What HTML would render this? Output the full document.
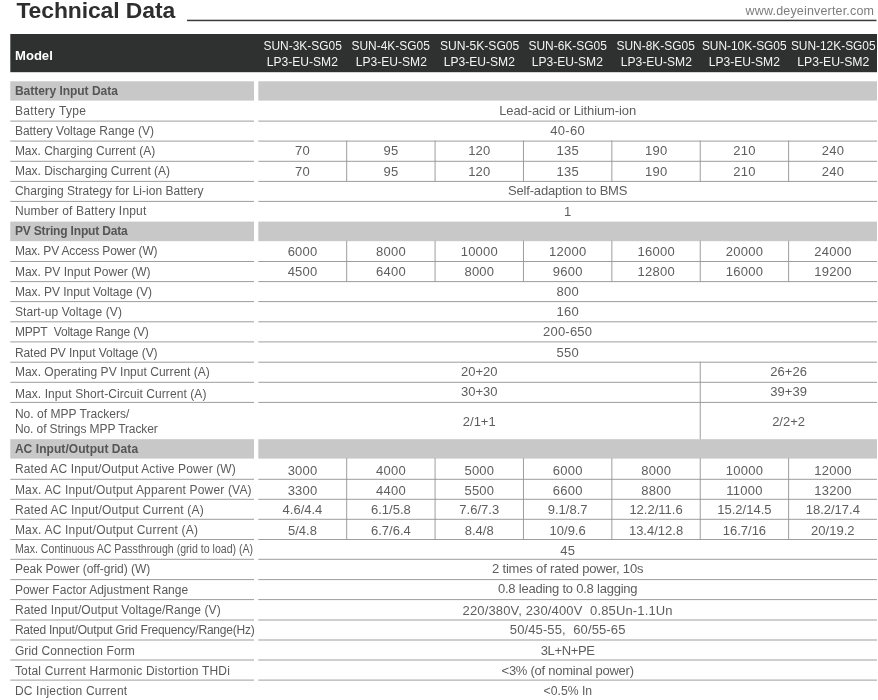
<!DOCTYPE html><html><head><meta charset="utf-8"><title>Technical Data</title><style>
html,body{margin:0;padding:0;background:#fff;}
body{width:878px;height:700px;position:relative;overflow:hidden;font-family:"Liberation Sans",sans-serif;will-change:transform;}
div{position:absolute;white-space:nowrap;line-height:16px;}
svg{position:absolute;left:0;top:0;}
.l{left:14.9px;font-size:12px;color:#5a5a5a;}
.s{left:14.9px;font-size:12px;color:#555555;font-weight:bold;}
.v{font-size:13px;color:#5e5e5e;text-align:center;}
.v span,.h span{display:inline-block;}
.h{font-size:13px;color:#f4f4f4;text-align:center;}
</style></head><body>
<svg id="shapes" width="878" height="700" viewBox="0 0 878 700">
<rect x="187.00" y="19.70" width="689.50" height="1.50" fill="#3a3a3a"/>
<rect x="10.30" y="34.00" width="866.70" height="38.20" fill="#2f3131"/>
<rect x="10.30" y="81.30" width="243.70" height="19.30" fill="#c8c8c8"/>
<rect x="258.30" y="81.30" width="618.70" height="19.30" fill="#c8c8c8"/>
<rect x="10.30" y="120.60" width="243.70" height="1.00" fill="#9d9d9d"/>
<rect x="258.30" y="120.60" width="618.70" height="1.00" fill="#9d9d9d"/>
<rect x="10.30" y="140.60" width="243.70" height="1.00" fill="#9d9d9d"/>
<rect x="258.30" y="140.60" width="618.70" height="1.00" fill="#9d9d9d"/>
<rect x="10.30" y="160.80" width="243.70" height="1.00" fill="#9d9d9d"/>
<rect x="258.30" y="160.80" width="618.70" height="1.00" fill="#9d9d9d"/>
<rect x="346.19" y="140.60" width="1.00" height="21.20" fill="#9d9d9d"/>
<rect x="434.57" y="140.60" width="1.00" height="21.20" fill="#9d9d9d"/>
<rect x="522.96" y="140.60" width="1.00" height="21.20" fill="#9d9d9d"/>
<rect x="611.34" y="140.60" width="1.00" height="21.20" fill="#9d9d9d"/>
<rect x="699.73" y="140.60" width="1.00" height="21.20" fill="#9d9d9d"/>
<rect x="788.11" y="140.60" width="1.00" height="21.20" fill="#9d9d9d"/>
<rect x="10.30" y="180.90" width="243.70" height="1.00" fill="#9d9d9d"/>
<rect x="258.30" y="180.90" width="618.70" height="1.00" fill="#9d9d9d"/>
<rect x="346.19" y="160.80" width="1.00" height="21.10" fill="#9d9d9d"/>
<rect x="434.57" y="160.80" width="1.00" height="21.10" fill="#9d9d9d"/>
<rect x="522.96" y="160.80" width="1.00" height="21.10" fill="#9d9d9d"/>
<rect x="611.34" y="160.80" width="1.00" height="21.10" fill="#9d9d9d"/>
<rect x="699.73" y="160.80" width="1.00" height="21.10" fill="#9d9d9d"/>
<rect x="788.11" y="160.80" width="1.00" height="21.10" fill="#9d9d9d"/>
<rect x="10.30" y="200.90" width="243.70" height="1.00" fill="#9d9d9d"/>
<rect x="258.30" y="200.90" width="618.70" height="1.00" fill="#9d9d9d"/>
<rect x="10.30" y="221.60" width="243.70" height="19.60" fill="#c8c8c8"/>
<rect x="258.30" y="221.60" width="618.70" height="19.60" fill="#c8c8c8"/>
<rect x="10.30" y="261.00" width="243.70" height="1.00" fill="#9d9d9d"/>
<rect x="258.30" y="261.00" width="618.70" height="1.00" fill="#9d9d9d"/>
<rect x="346.19" y="240.70" width="1.00" height="21.30" fill="#9d9d9d"/>
<rect x="434.57" y="240.70" width="1.00" height="21.30" fill="#9d9d9d"/>
<rect x="522.96" y="240.70" width="1.00" height="21.30" fill="#9d9d9d"/>
<rect x="611.34" y="240.70" width="1.00" height="21.30" fill="#9d9d9d"/>
<rect x="699.73" y="240.70" width="1.00" height="21.30" fill="#9d9d9d"/>
<rect x="788.11" y="240.70" width="1.00" height="21.30" fill="#9d9d9d"/>
<rect x="10.30" y="281.10" width="243.70" height="1.00" fill="#9d9d9d"/>
<rect x="258.30" y="281.10" width="618.70" height="1.00" fill="#9d9d9d"/>
<rect x="346.19" y="261.00" width="1.00" height="21.10" fill="#9d9d9d"/>
<rect x="434.57" y="261.00" width="1.00" height="21.10" fill="#9d9d9d"/>
<rect x="522.96" y="261.00" width="1.00" height="21.10" fill="#9d9d9d"/>
<rect x="611.34" y="261.00" width="1.00" height="21.10" fill="#9d9d9d"/>
<rect x="699.73" y="261.00" width="1.00" height="21.10" fill="#9d9d9d"/>
<rect x="788.11" y="261.00" width="1.00" height="21.10" fill="#9d9d9d"/>
<rect x="10.30" y="301.10" width="243.70" height="1.00" fill="#9d9d9d"/>
<rect x="258.30" y="301.10" width="618.70" height="1.00" fill="#9d9d9d"/>
<rect x="10.30" y="321.30" width="243.70" height="1.00" fill="#9d9d9d"/>
<rect x="258.30" y="321.30" width="618.70" height="1.00" fill="#9d9d9d"/>
<rect x="10.30" y="341.40" width="243.70" height="1.00" fill="#9d9d9d"/>
<rect x="258.30" y="341.40" width="618.70" height="1.00" fill="#9d9d9d"/>
<rect x="10.30" y="361.70" width="243.70" height="1.00" fill="#9d9d9d"/>
<rect x="258.30" y="361.70" width="618.70" height="1.00" fill="#9d9d9d"/>
<rect x="10.30" y="381.80" width="243.70" height="1.00" fill="#9d9d9d"/>
<rect x="258.30" y="381.80" width="618.70" height="1.00" fill="#9d9d9d"/>
<rect x="699.73" y="361.70" width="1.00" height="21.10" fill="#9d9d9d"/>
<rect x="10.30" y="401.90" width="243.70" height="1.00" fill="#9d9d9d"/>
<rect x="258.30" y="401.90" width="618.70" height="1.00" fill="#9d9d9d"/>
<rect x="699.73" y="381.80" width="1.00" height="21.10" fill="#9d9d9d"/>
<rect x="699.73" y="401.90" width="1.00" height="37.80" fill="#9d9d9d"/>
<rect x="10.30" y="439.20" width="243.70" height="19.40" fill="#c8c8c8"/>
<rect x="258.30" y="439.20" width="618.70" height="19.40" fill="#c8c8c8"/>
<rect x="10.30" y="478.80" width="243.70" height="1.00" fill="#9d9d9d"/>
<rect x="258.30" y="478.80" width="618.70" height="1.00" fill="#9d9d9d"/>
<rect x="346.19" y="458.10" width="1.00" height="21.70" fill="#9d9d9d"/>
<rect x="434.57" y="458.10" width="1.00" height="21.70" fill="#9d9d9d"/>
<rect x="522.96" y="458.10" width="1.00" height="21.70" fill="#9d9d9d"/>
<rect x="611.34" y="458.10" width="1.00" height="21.70" fill="#9d9d9d"/>
<rect x="699.73" y="458.10" width="1.00" height="21.70" fill="#9d9d9d"/>
<rect x="788.11" y="458.10" width="1.00" height="21.70" fill="#9d9d9d"/>
<rect x="10.30" y="498.80" width="243.70" height="1.00" fill="#9d9d9d"/>
<rect x="258.30" y="498.80" width="618.70" height="1.00" fill="#9d9d9d"/>
<rect x="346.19" y="478.80" width="1.00" height="21.00" fill="#9d9d9d"/>
<rect x="434.57" y="478.80" width="1.00" height="21.00" fill="#9d9d9d"/>
<rect x="522.96" y="478.80" width="1.00" height="21.00" fill="#9d9d9d"/>
<rect x="611.34" y="478.80" width="1.00" height="21.00" fill="#9d9d9d"/>
<rect x="699.73" y="478.80" width="1.00" height="21.00" fill="#9d9d9d"/>
<rect x="788.11" y="478.80" width="1.00" height="21.00" fill="#9d9d9d"/>
<rect x="10.30" y="518.80" width="243.70" height="1.00" fill="#9d9d9d"/>
<rect x="258.30" y="518.80" width="618.70" height="1.00" fill="#9d9d9d"/>
<rect x="346.19" y="498.80" width="1.00" height="21.00" fill="#9d9d9d"/>
<rect x="434.57" y="498.80" width="1.00" height="21.00" fill="#9d9d9d"/>
<rect x="522.96" y="498.80" width="1.00" height="21.00" fill="#9d9d9d"/>
<rect x="611.34" y="498.80" width="1.00" height="21.00" fill="#9d9d9d"/>
<rect x="699.73" y="498.80" width="1.00" height="21.00" fill="#9d9d9d"/>
<rect x="788.11" y="498.80" width="1.00" height="21.00" fill="#9d9d9d"/>
<rect x="10.30" y="539.00" width="243.70" height="1.00" fill="#9d9d9d"/>
<rect x="258.30" y="539.00" width="618.70" height="1.00" fill="#9d9d9d"/>
<rect x="346.19" y="518.80" width="1.00" height="21.20" fill="#9d9d9d"/>
<rect x="434.57" y="518.80" width="1.00" height="21.20" fill="#9d9d9d"/>
<rect x="522.96" y="518.80" width="1.00" height="21.20" fill="#9d9d9d"/>
<rect x="611.34" y="518.80" width="1.00" height="21.20" fill="#9d9d9d"/>
<rect x="699.73" y="518.80" width="1.00" height="21.20" fill="#9d9d9d"/>
<rect x="788.11" y="518.80" width="1.00" height="21.20" fill="#9d9d9d"/>
<rect x="10.30" y="558.80" width="243.70" height="1.00" fill="#9d9d9d"/>
<rect x="258.30" y="558.80" width="618.70" height="1.00" fill="#9d9d9d"/>
<rect x="10.30" y="579.10" width="243.70" height="1.00" fill="#9d9d9d"/>
<rect x="258.30" y="579.10" width="618.70" height="1.00" fill="#9d9d9d"/>
<rect x="10.30" y="599.10" width="243.70" height="1.00" fill="#9d9d9d"/>
<rect x="258.30" y="599.10" width="618.70" height="1.00" fill="#9d9d9d"/>
<rect x="10.30" y="619.50" width="243.70" height="1.00" fill="#9d9d9d"/>
<rect x="258.30" y="619.50" width="618.70" height="1.00" fill="#9d9d9d"/>
<rect x="10.30" y="639.50" width="243.70" height="1.00" fill="#9d9d9d"/>
<rect x="258.30" y="639.50" width="618.70" height="1.00" fill="#9d9d9d"/>
<rect x="10.30" y="659.50" width="243.70" height="1.00" fill="#9d9d9d"/>
<rect x="258.30" y="659.50" width="618.70" height="1.00" fill="#9d9d9d"/>
<rect x="10.30" y="679.60" width="243.70" height="1.00" fill="#9d9d9d"/>
<rect x="258.30" y="679.60" width="618.70" height="1.00" fill="#9d9d9d"/>
</svg>
<div id="title" style="left:16.4px;top:-3px;font-size:22.9px;line-height:26px;font-weight:bold;color:#2e2e2e;letter-spacing:-0.085px;">Technical Data</div>
<div id="url" style="right:3.82px;top:2.6px;font-size:12.5px;line-height:16px;color:#7c7c7c;letter-spacing:0.179px;">www.deyeinverter.com</div>
<div id="model" style="left:14.9px;top:48px;font-size:12px;line-height:16px;font-weight:bold;color:#fff;transform:scaleX(1.0895);transform-origin:0 50%;">Model</div>
<div class="h" style="left:248.30px;top:38px;width:108.39px;"><span id="h0" style="transform:scaleX(0.9185);transform-origin:50% 50%;">SUN-3K-SG05</span></div>
<div class="h" style="left:248.30px;top:54px;width:108.39px;"><span id="g0" style="transform:scaleX(0.9301);transform-origin:50% 50%;">LP3-EU-SM2</span></div>
<div class="h" style="left:336.69px;top:38px;width:108.39px;"><span id="h1" style="transform:scaleX(0.9185);transform-origin:50% 50%;">SUN-4K-SG05</span></div>
<div class="h" style="left:336.69px;top:54px;width:108.39px;"><span id="g1" style="transform:scaleX(0.9301);transform-origin:50% 50%;">LP3-EU-SM2</span></div>
<div class="h" style="left:425.07px;top:38px;width:108.39px;"><span id="h2" style="transform:scaleX(0.9296);transform-origin:50% 50%;">SUN-5K-SG05</span></div>
<div class="h" style="left:425.07px;top:54px;width:108.39px;"><span id="g2" style="transform:scaleX(0.9301);transform-origin:50% 50%;">LP3-EU-SM2</span></div>
<div class="h" style="left:513.46px;top:38px;width:108.39px;"><span id="h3" style="transform:scaleX(0.9185);transform-origin:50% 50%;">SUN-6K-SG05</span></div>
<div class="h" style="left:513.46px;top:54px;width:108.39px;"><span id="g3" style="transform:scaleX(0.9301);transform-origin:50% 50%;">LP3-EU-SM2</span></div>
<div class="h" style="left:601.84px;top:38px;width:108.39px;"><span id="h4" style="transform:scaleX(0.9185);transform-origin:50% 50%;">SUN-8K-SG05</span></div>
<div class="h" style="left:601.84px;top:54px;width:108.39px;"><span id="g4" style="transform:scaleX(0.9301);transform-origin:50% 50%;">LP3-EU-SM2</span></div>
<div class="h" style="left:690.23px;top:38px;width:108.39px;"><span id="h5" style="transform:scaleX(0.9159);transform-origin:50% 50%;">SUN-10K-SG05</span></div>
<div class="h" style="left:690.23px;top:54px;width:108.39px;"><span id="g5" style="transform:scaleX(0.9301);transform-origin:50% 50%;">LP3-EU-SM2</span></div>
<div class="h" style="left:778.61px;top:38px;width:108.39px;"><span id="h6" style="transform:scaleX(0.9159);transform-origin:50% 50%;">SUN-12K-SG05</span></div>
<div class="h" style="left:778.61px;top:54px;width:108.39px;"><span id="g6" style="transform:scaleX(0.9428);transform-origin:50% 50%;">LP3-EU-SM2</span></div>
<div class="s" id="L0" style="top:83px;letter-spacing:-0.024px;">Battery Input Data</div>
<div class="l" id="L1" style="top:103px;letter-spacing:0.364px;">Battery Type</div>
<div class="v" style="left:258.30px;top:103px;width:618.70px;"><span id="V1" style="letter-spacing:-0.113px;">Lead-acid or Lithium-ion</span></div>
<div class="l" id="L2" style="top:123px;letter-spacing:-0.017px;">Battery Voltage Range (V)</div>
<div class="v" style="left:258.30px;top:123px;width:618.70px;"><span id="V2" style="letter-spacing:0.275px;">40-60</span></div>
<div class="l" id="L3" style="top:143px;letter-spacing:-0.017px;">Max. Charging Current (A)</div>
<div class="v" style="left:258.43px;top:143px;width:88.39px;letter-spacing:0.26px;">70</div>
<div class="v" style="left:346.82px;top:143px;width:88.39px;letter-spacing:0.26px;">95</div>
<div class="v" style="left:435.20px;top:143px;width:88.39px;letter-spacing:0.26px;">120</div>
<div class="v" style="left:523.59px;top:143px;width:88.39px;letter-spacing:0.26px;">135</div>
<div class="v" style="left:611.97px;top:143px;width:88.39px;letter-spacing:0.26px;">190</div>
<div class="v" style="left:700.36px;top:143px;width:88.39px;letter-spacing:0.26px;">210</div>
<div class="v" style="left:788.74px;top:143px;width:88.39px;letter-spacing:0.26px;">240</div>
<div class="l" id="L4" style="top:163px;letter-spacing:-0.007px;">Max. Discharging Current (A)</div>
<div class="v" style="left:258.43px;top:164px;width:88.39px;letter-spacing:0.26px;">70</div>
<div class="v" style="left:346.82px;top:164px;width:88.39px;letter-spacing:0.26px;">95</div>
<div class="v" style="left:435.20px;top:164px;width:88.39px;letter-spacing:0.26px;">120</div>
<div class="v" style="left:523.59px;top:164px;width:88.39px;letter-spacing:0.26px;">135</div>
<div class="v" style="left:611.97px;top:164px;width:88.39px;letter-spacing:0.26px;">190</div>
<div class="v" style="left:700.36px;top:164px;width:88.39px;letter-spacing:0.26px;">210</div>
<div class="v" style="left:788.74px;top:164px;width:88.39px;letter-spacing:0.26px;">240</div>
<div class="l" id="L5" style="top:183px;letter-spacing:0.017px;">Charging Strategy for Li-ion Battery</div>
<div class="v" style="left:258.30px;top:183px;width:618.70px;"><span id="V5" style="letter-spacing:-0.179px;">Self-adaption to BMS</span></div>
<div class="l" id="L6" style="top:203px;letter-spacing:0.182px;">Number of Battery Input</div>
<div class="v" style="left:258.30px;top:204px;width:618.70px;">1</div>
<div class="s" id="L7" style="top:223px;letter-spacing:-0.163px;">PV String Input Data</div>
<div class="l" id="L8" style="top:243px;letter-spacing:-0.174px;">Max. PV Access Power (W)</div>
<div class="v" style="left:258.43px;top:244px;width:88.39px;letter-spacing:0.26px;">6000</div>
<div class="v" style="left:346.82px;top:244px;width:88.39px;letter-spacing:0.26px;">8000</div>
<div class="v" style="left:435.20px;top:244px;width:88.39px;letter-spacing:0.26px;">10000</div>
<div class="v" style="left:523.59px;top:244px;width:88.39px;letter-spacing:0.26px;">12000</div>
<div class="v" style="left:611.97px;top:244px;width:88.39px;letter-spacing:0.26px;">16000</div>
<div class="v" style="left:700.36px;top:244px;width:88.39px;letter-spacing:0.26px;">20000</div>
<div class="v" style="left:788.74px;top:244px;width:88.39px;letter-spacing:0.26px;">24000</div>
<div class="l" id="L9" style="top:264px;letter-spacing:0.014px;">Max. PV Input Power (W)</div>
<div class="v" style="left:258.43px;top:264px;width:88.39px;letter-spacing:0.26px;">4500</div>
<div class="v" style="left:346.82px;top:264px;width:88.39px;letter-spacing:0.26px;">6400</div>
<div class="v" style="left:435.20px;top:264px;width:88.39px;letter-spacing:0.26px;">8000</div>
<div class="v" style="left:523.59px;top:264px;width:88.39px;letter-spacing:0.26px;">9600</div>
<div class="v" style="left:611.97px;top:264px;width:88.39px;letter-spacing:0.26px;">12800</div>
<div class="v" style="left:700.36px;top:264px;width:88.39px;letter-spacing:0.26px;">16000</div>
<div class="v" style="left:788.74px;top:264px;width:88.39px;letter-spacing:0.26px;">19200</div>
<div class="l" id="L10" style="top:284px;letter-spacing:-0.042px;">Max. PV Input Voltage (V)</div>
<div class="v" style="left:258.43px;top:284px;width:618.70px;letter-spacing:0.26px;">800</div>
<div class="l" id="L11" style="top:304px;letter-spacing:0.084px;">Start-up Voltage (V)</div>
<div class="v" style="left:258.43px;top:304px;width:618.70px;letter-spacing:0.26px;">160</div>
<div class="l" id="L12" style="top:324px;letter-spacing:-0.191px;">MPPT&nbsp; Voltage Range (V)</div>
<div class="v" style="left:258.30px;top:324px;width:618.70px;"><span id="V12" style="letter-spacing:0.217px;">200-650</span></div>
<div class="l" id="L13" style="top:345px;letter-spacing:-0.056px;">Rated PV Input Voltage (V)</div>
<div class="v" style="left:258.43px;top:345px;width:618.70px;letter-spacing:0.26px;">550</div>
<div class="l" id="L14" style="top:364px;letter-spacing:0.024px;">Max. Operating PV Input Current (A)</div>
<div class="v" style="left:258.30px;top:364px;width:441.93px;">20+20</div>
<div class="v" style="left:700.23px;top:364px;width:176.77px;">26+26</div>
<div class="l" id="L15" style="top:386px;letter-spacing:0.080px;">Max. Input Short-Circuit Current (A)</div>
<div class="v" style="left:258.30px;top:384px;width:441.93px;">30+30</div>
<div class="v" style="left:700.23px;top:384px;width:176.77px;">39+39</div>
<div class="l" id="L16" style="top:406px;letter-spacing:0.032px;">No. of MPP Trackers/</div>
<div class="l" id="L17" style="top:421px;letter-spacing:-0.088px;">No. of Strings MPP Tracker</div>
<div class="v" style="left:258.30px;top:414px;width:441.93px;">2/1+1</div>
<div class="v" style="left:700.23px;top:414px;width:176.77px;">2/2+2</div>
<div class="s" id="L18" style="top:441px;letter-spacing:0.063px;">AC Input/Output Data</div>
<div class="l" id="L19" style="top:461px;letter-spacing:0.130px;">Rated AC Input/Output Active Power (W)</div>
<div class="v" style="left:258.43px;top:463px;width:88.39px;letter-spacing:0.26px;">3000</div>
<div class="v" style="left:346.82px;top:463px;width:88.39px;letter-spacing:0.26px;">4000</div>
<div class="v" style="left:435.20px;top:463px;width:88.39px;letter-spacing:0.26px;">5000</div>
<div class="v" style="left:523.59px;top:463px;width:88.39px;letter-spacing:0.26px;">6000</div>
<div class="v" style="left:611.97px;top:463px;width:88.39px;letter-spacing:0.26px;">8000</div>
<div class="v" style="left:700.36px;top:463px;width:88.39px;letter-spacing:0.26px;">10000</div>
<div class="v" style="left:788.74px;top:463px;width:88.39px;letter-spacing:0.26px;">12000</div>
<div class="l" id="L20" style="top:482px;letter-spacing:0.174px;">Max. AC Input/Output Apparent Power (VA)</div>
<div class="v" style="left:258.43px;top:483px;width:88.39px;letter-spacing:0.26px;">3300</div>
<div class="v" style="left:346.82px;top:483px;width:88.39px;letter-spacing:0.26px;">4400</div>
<div class="v" style="left:435.20px;top:483px;width:88.39px;letter-spacing:0.26px;">5500</div>
<div class="v" style="left:523.59px;top:483px;width:88.39px;letter-spacing:0.26px;">6600</div>
<div class="v" style="left:611.97px;top:483px;width:88.39px;letter-spacing:0.26px;">8800</div>
<div class="v" style="left:700.36px;top:483px;width:88.39px;letter-spacing:0.26px;">11000</div>
<div class="v" style="left:788.74px;top:483px;width:88.39px;letter-spacing:0.26px;">13200</div>
<div class="l" id="L21" style="top:502px;letter-spacing:0.166px;">Rated AC Input/Output Current (A)</div>
<div class="v" style="left:258.30px;top:502px;width:88.39px;">4.6/4.4</div>
<div class="v" style="left:346.69px;top:502px;width:88.39px;">6.1/5.8</div>
<div class="v" style="left:435.07px;top:502px;width:88.39px;">7.6/7.3</div>
<div class="v" style="left:523.46px;top:502px;width:88.39px;">9.1/8.7</div>
<div class="v" style="left:611.84px;top:502px;width:88.39px;">12.2/11.6</div>
<div class="v" style="left:700.23px;top:502px;width:88.39px;">15.2/14.5</div>
<div class="v" style="left:788.61px;top:502px;width:88.39px;">18.2/17.4</div>
<div class="l" id="L22" style="top:522px;letter-spacing:0.181px;">Max. AC Input/Output Current (A)</div>
<div class="v" style="left:258.30px;top:523px;width:88.39px;">5/4.8</div>
<div class="v" style="left:346.69px;top:523px;width:88.39px;">6.7/6.4</div>
<div class="v" style="left:435.07px;top:523px;width:88.39px;">8.4/8</div>
<div class="v" style="left:523.46px;top:523px;width:88.39px;">10/9.6</div>
<div class="v" style="left:611.84px;top:523px;width:88.39px;">13.4/12.8</div>
<div class="v" style="left:700.23px;top:523px;width:88.39px;">16.7/16</div>
<div class="v" style="left:788.61px;top:523px;width:88.39px;">20/19.2</div>
<div class="l" id="L23" style="top:541px;transform:scaleX(0.8815);transform-origin:0 50%;">Max. Continuous AC Passthrough (grid to load) (A)</div>
<div class="v" style="left:258.43px;top:543px;width:618.70px;letter-spacing:0.26px;">45</div>
<div class="l" id="L24" style="top:561px;letter-spacing:-0.017px;">Peak Power (off-grid) (W)</div>
<div class="v" style="left:258.30px;top:561px;width:618.70px;"><span id="V23" style="letter-spacing:-0.177px;">2 times of rated power, 10s</span></div>
<div class="l" id="L25" style="top:582px;letter-spacing:0.018px;">Power Factor Adjustment Range</div>
<div class="v" style="left:258.30px;top:581px;width:618.70px;"><span id="V24" style="letter-spacing:-0.228px;">0.8 leading to 0.8 lagging</span></div>
<div class="l" id="L26" style="top:602px;letter-spacing:0.086px;">Rated Input/Output Voltage/Range (V)</div>
<div class="v" style="left:258.30px;top:603px;width:618.70px;"><span id="V25" style="letter-spacing:0.142px;">220/380V, 230/400V&nbsp; 0.85Un-1.1Un</span></div>
<div class="l" id="L27" style="top:622px;letter-spacing:-0.212px;">Rated Input/Output Grid Frequency/Range(Hz)</div>
<div class="v" style="left:258.30px;top:622px;width:618.70px;"><span id="V26" style="letter-spacing:0.117px;">50/45-55,&nbsp; 60/55-65</span></div>
<div class="l" id="L28" style="top:643px;letter-spacing:0.100px;">Grid Connection Form</div>
<div class="v" style="left:258.30px;top:643px;width:618.70px;"><span id="V27" style="letter-spacing:-0.367px;">3L+N+PE</span></div>
<div class="l" id="L29" style="top:663px;letter-spacing:0.192px;">Total Current Harmonic Distortion THDi</div>
<div class="v" style="left:258.30px;top:663px;width:618.70px;"><span id="V28" style="letter-spacing:-0.248px;">&lt;3% (of nominal power)</span></div>
<div class="l" id="L30" style="top:683px;letter-spacing:0.184px;">DC Injection Current</div>
<div class="v" style="left:258.30px;top:683px;width:618.70px;"><span id="V29" style="transform:scaleX(0.9385);transform-origin:50% 50%;">&lt;0.5% In</span></div>
</body></html>
